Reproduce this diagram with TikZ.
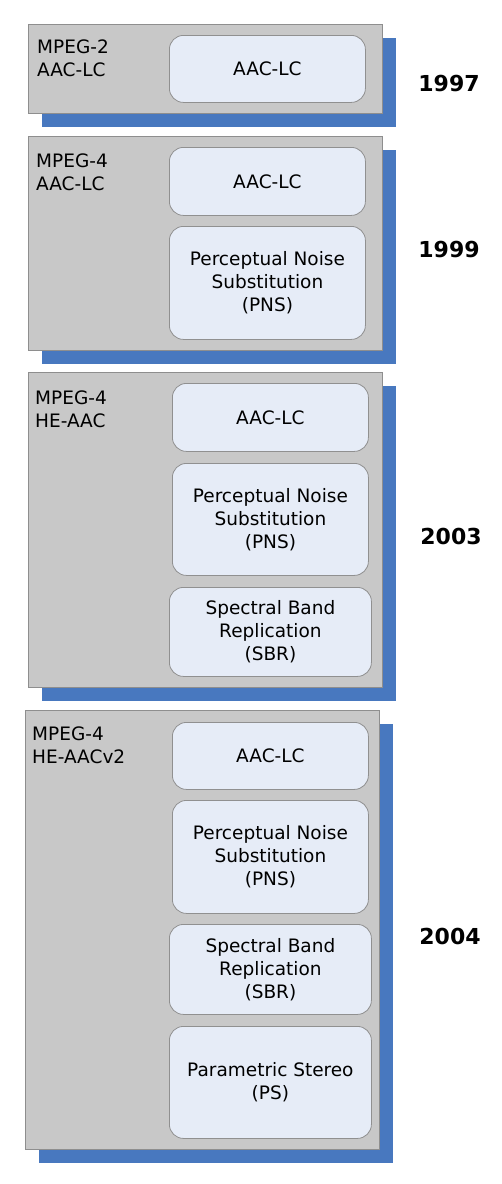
\documentclass[tikz,border=0pt]{standalone}
\usepackage{fontspec}
\setmainfont{DejaVu Sans}
\usepackage{xcolor}
\usepackage{tikz}
\usetikzlibrary{positioning, shadows}

\definecolor{panelgray}{HTML}{C8C8C8}
\definecolor{panelline}{HTML}{8E8E8E}
\definecolor{shadowblue}{HTML}{4878BF}
\definecolor{blockfill}{HTML}{E6ECF7}
\definecolor{blockline}{HTML}{909090}

\newcommand{\bodyfont}{\fontsize{18.5}{23}\selectfont}
\newcommand{\yearfont}{\fontsize{22}{26}\selectfont\bfseries}

\tikzset{
  panel/.style={draw=panelline, fill=panelgray, line width=0.9pt,
    anchor=north west, inner sep=0pt,
    general shadow={fill=shadowblue, shadow xshift=14pt, shadow yshift=-14pt}},
  block/.style={draw=blockline, fill=blockfill, line width=0.8pt,
    rounded corners=14pt, anchor=north west, inner sep=0pt,
    align=center, font=\bodyfont},
  tag/.style={anchor=west, align=left, inner sep=0pt, font=\bodyfont},
  year/.style={inner sep=0pt, font=\yearfont}
}

\begin{document}
\begin{tikzpicture}[x=1pt, y=-1pt]
  \useasboundingbox (0,0) rectangle (501,1184);
  % 1997: MPEG-2 AAC-LC
  \node[panel, minimum width=354pt, minimum height=89pt] (p1) at (28,24) {};
  \node[tag] (t1) at (37,58.5) {MPEG-2\\AAC-LC};
  \node[block, minimum width=196pt, minimum height=67pt] (p1aac) at (169,35) {AAC-LC};
  \node[year] (y1) at (449,83) {1997};
  % 1999: MPEG-4 AAC-LC
  \node[panel, minimum width=354pt, minimum height=214pt] (p2) at (28,136) {};
  \node[tag] (t2) at (36,172.5) {MPEG-4\\AAC-LC};
  \node[block, minimum width=196pt, minimum height=68pt] (p2aac) at (169,147) {AAC-LC};
  \node[block, minimum width=196pt, minimum height=113pt] (p2pns) at (169,226)
    {Perceptual Noise\\Substitution\\(PNS)};
  \node[year] (y2) at (449,249) {1999};
  % 2003: MPEG-4 HE-AAC
  \node[panel, minimum width=354pt, minimum height=315pt] (p3) at (28,372) {};
  \node[tag] (t3) at (35,409.5) {MPEG-4\\HE-AAC};
  \node[block, minimum width=196pt, minimum height=68pt] (p3aac) at (172,383) {AAC-LC};
  \node[block, minimum width=196pt, minimum height=112pt] (p3pns) at (172,463)
    {Perceptual Noise\\Substitution\\(PNS)};
  \node[block, minimum width=202pt, minimum height=89pt] (p3sbr) at (169,587)
    {Spectral Band\\Replication\\(SBR)};
  \node[year] (y3) at (451,536) {2003};
  % 2004: MPEG-4 HE-AACv2
  \node[panel, minimum width=354pt, minimum height=439pt] (p4) at (25,710) {};
  \node[tag] (t4) at (32,745) {MPEG-4\\HE-AACv2};
  \node[block, minimum width=196pt, minimum height=67pt] (p4aac) at (172,722) {AAC-LC};
  \node[block, minimum width=196pt, minimum height=113pt] (p4pns) at (172,800)
    {Perceptual Noise\\Substitution\\(PNS)};
  \node[block, minimum width=202pt, minimum height=90pt] (p4sbr) at (169,924)
    {Spectral Band\\Replication\\(SBR)};
  \node[block, minimum width=202pt, minimum height=112pt] (p4ps) at (169,1026)
    {Parametric Stereo\\(PS)};
  \node[year] (y4) at (450,936) {2004};
\end{tikzpicture}
\end{document}
